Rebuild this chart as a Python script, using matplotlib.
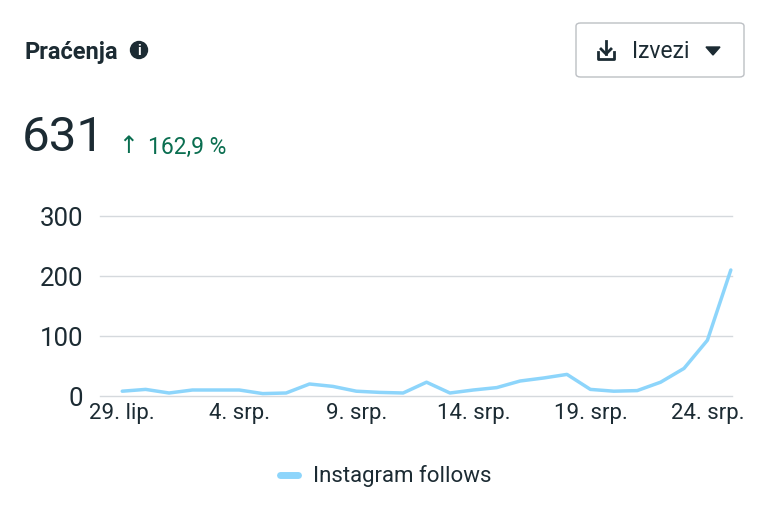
import matplotlib
matplotlib.use("Agg")
import matplotlib.pyplot as plt
from matplotlib.patches import FancyBboxPatch, Ellipse, Polygon

days = list(range(27))
values = [8, 11, 5, 10, 10, 10, 4, 5, 20, 16, 8, 6, 5, 23, 5, 10, 14, 25, 30, 36, 11, 8, 9, 23, 46, 93, 210]
tick_pos = [0, 5, 10, 15, 20, 25]
tick_labels = ["29. lip.", "4. srp.", "9. srp.", "14. srp.", "19. srp.", "24. srp."]
yticks = [0, 100, 200, 300]

plt.rcParams['font.family'] = ['Roboto', 'DejaVu Sans']
W, H = 762, 510
fig = plt.figure(figsize=(W/100, H/100), dpi=100)
ax = fig.add_axes([100/W, 1-397/H, (732-100)/W, 180/H])
ax.plot(days, values, color="#8dd5fb", lw=2.5, clip_on=False, solid_capstyle='round')
ax.set_xlim(-0.95, 26.05)
ax.set_ylim(0, 300)
ax.set_yticks(yticks)
ax.set_xticks(tick_pos)
ax.set_xticklabels(tick_labels)
ax.tick_params(length=0, labelsize=16, colors="#1c2b33", pad=4)
ax.tick_params(axis='y', pad=12)
for lab in ax.get_yticklabels():
    lab.set_fontsize(18.5)
for y in yticks:
    ax.axhline(y, color="#d5d9dd", lw=1, zorder=0, clip_on=False)
for s in ax.spines.values():
    s.set_visible(False)
ax.patch.set_alpha(0)

def fx(x): return x/W
def fy(y): return 1-y/H
ink = "#1c2b33"
fig.text(fx(24), fy(52), "Praćenja", fontsize=17, fontweight='bold', color=ink, va='center')
fig.patches.append(Ellipse((fx(139), fy(51)), 17/W, 17/H, transform=fig.transFigure, color=ink))
fig.text(fx(139), fy(51), "i", fontsize=10, fontweight='bold', color="white", ha='center', va='center')
fig.text(fx(22), fy(138), "631", fontsize=35.5, color=ink, va='center')
fig.text(fx(118), fy(147), "↑", fontsize=17, color="#0a6e50", va='center')
fig.text(fx(148), fy(147), "162,9 %", fontsize=16.5, color="#0a6e50", va='center')
fig.patches.append(FancyBboxPatch((fx(576), fy(78)), 168/W, 54/H, boxstyle="round,pad=0,rounding_size=0.006",
                                  transform=fig.transFigure, fc="white", ec="#bcc0c4", lw=1))
L = lambda xs, ys, **k: fig.lines.append(plt.Line2D([fx(v) for v in xs], [fy(v) for v in ys],
                                                     transform=fig.transFigure, color=ink, lw=2, **k))
L([598, 598, 614, 614], [53, 60, 60, 53])
L([606, 606], [42, 55])
L([601, 606, 611], [50, 55, 50])
fig.text(fx(632), fy(52), "Izvezi", fontsize=16.5, color=ink, va='center')
fig.patches.append(Polygon([(fx(706), fy(48)), (fx(720), fy(48)), (fx(713), fy(56))], closed=True,
                           transform=fig.transFigure, color=ink))
fig.lines.append(plt.Line2D([fx(280), fx(298)], [fy(476), fy(476)], transform=fig.transFigure,
                            color="#8dd5fb", lw=5, solid_capstyle='round'))
fig.text(fx(313), fy(476), "Instagram follows", fontsize=16, color=ink, va='center')
fig.savefig("out.png", dpi=100)
